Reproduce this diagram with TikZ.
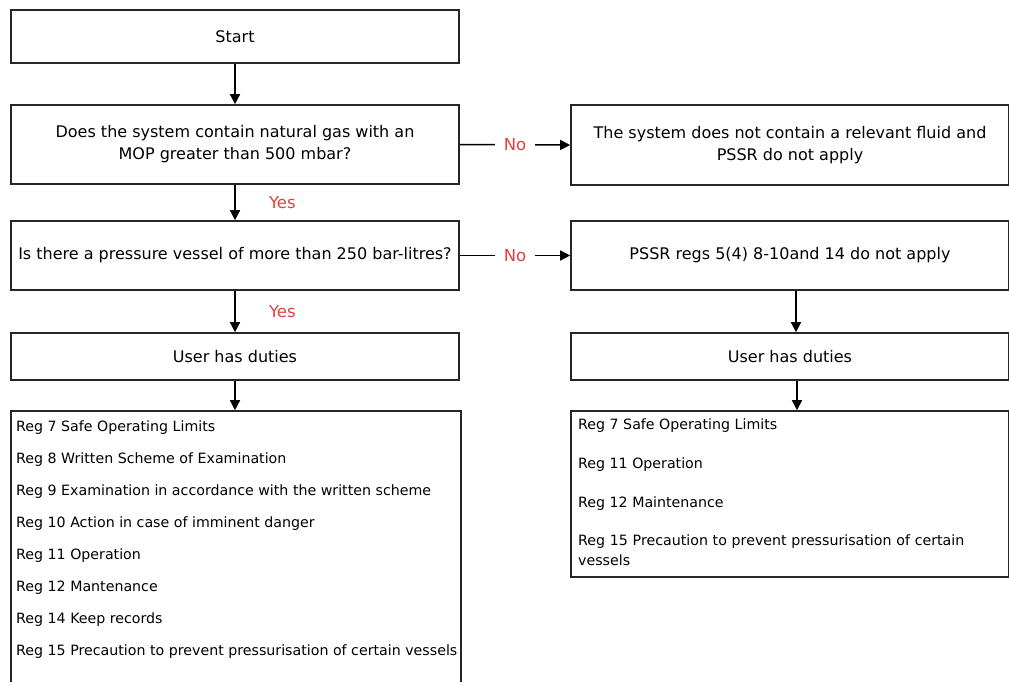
\documentclass[tikz,border=0pt]{standalone}
\usepackage{fontspec}
\setmainfont{DejaVu Sans}
\usetikzlibrary{arrows.meta}
\definecolor{lbl}{HTML}{E0403F}
\tikzset{
  x=1pt, y=1pt,
  box/.style={draw=black!85, line width=1.6pt, fill=white, inner sep=0pt, align=center,
              font=\fontsize{16}{22}\selectfont},
  flow/.style={line width=1.5pt, -{Triangle[width=10pt,length=10pt]}},
  lbl/.style={text=lbl, font=\fontsize{16.5}{18}\selectfont},
  gap/.style={lbl, fill=white, inner xsep=9pt, inner ysep=2pt},
  item/.style={anchor=base west, inner sep=0pt, font=\fontsize{14.2}{20}\selectfont, align=left}
}
\begin{document}
\begin{tikzpicture}
\useasboundingbox (0,0) rectangle (1009,-682);
\clip (0,0) rectangle (1009,-682);

% left column
\node[box, minimum width=448, minimum height=53] (start) at (235,-36.5) {Start};
\node[box, minimum width=448, minimum height=79] (q1) at (235,-144.5)
  {Does the system contain natural gas with an\\MOP greater than 500 mbar?};
\node[box, minimum width=448, minimum height=69] (q2) at (235,-255.5)
  {Is there a pressure vessel of more than 250 bar-litres?};
\node[box, minimum width=448, minimum height=47] (u1) at (235,-356.5) {User has duties};
\node[box, minimum width=450, minimum height=290] (l1) at (236,-556) {};

% right column
\node[box, minimum width=438, minimum height=80] (r1) at (790,-145)
  {The system does not contain a relevant fluid and\\PSSR do not apply};
\node[box, minimum width=438, minimum height=69] (r2) at (790,-255.5)
  {PSSR regs 5(4) 8-10and 14 do not apply};
\node[box, minimum width=438, minimum height=47] (u2) at (790,-356.5) {User has duties};
\node[box, minimum width=438, minimum height=166] (l2) at (790,-494) {};

% duties, left list
\foreach \t [count=\i from 0] in {
  Reg 7 Safe Operating Limits,
  Reg 8 Written Scheme of Examination,
  Reg 9 Examination in accordance with the written scheme,
  Reg 10 Action in case of imminent danger,
  Reg 11 Operation,
  Reg 12 Mantenance,
  Reg 14 Keep records,
  Reg 15 Precaution to prevent pressurisation of certain vessels}
  \node[item] (a\i) at (16,{-431-32*\i}) {\t};

% duties, right list
\node[item] (b0) at (578,-429) {Reg 7 Safe Operating Limits};
\node[item] (b1) at (578,-468) {Reg 11 Operation};
\node[item] (b2) at (578,-507) {Reg 12 Maintenance};
\node[item, anchor=north west, text width=425] (b3) at (578,-535)
  {Reg 15 Precaution to prevent pressurisation of certain\\vessels};

% connectors
\draw[flow] (start.south) -- (q1.north);
\draw[flow] (q1.south) -- node[lbl, anchor=west, xshift=30pt] {Yes} (q2.north);
\draw[flow] (q2.south) -- node[lbl, anchor=west, xshift=30pt] {Yes} (u1.north);
\draw[flow] (u1.south) -- (u1.south |- l1.north);
\draw[flow] (q1.east) -- node[gap] {No} (r1.west);
\draw[flow] (q2.east) -- node[gap] {No} (r2.west);
\draw[flow] ([xshift=6pt]r2.south) -- ([xshift=6pt]u2.north);
\draw[flow] ([xshift=7pt]u2.south) -- ([xshift=7pt]l2.north);
\end{tikzpicture}
\end{document}
